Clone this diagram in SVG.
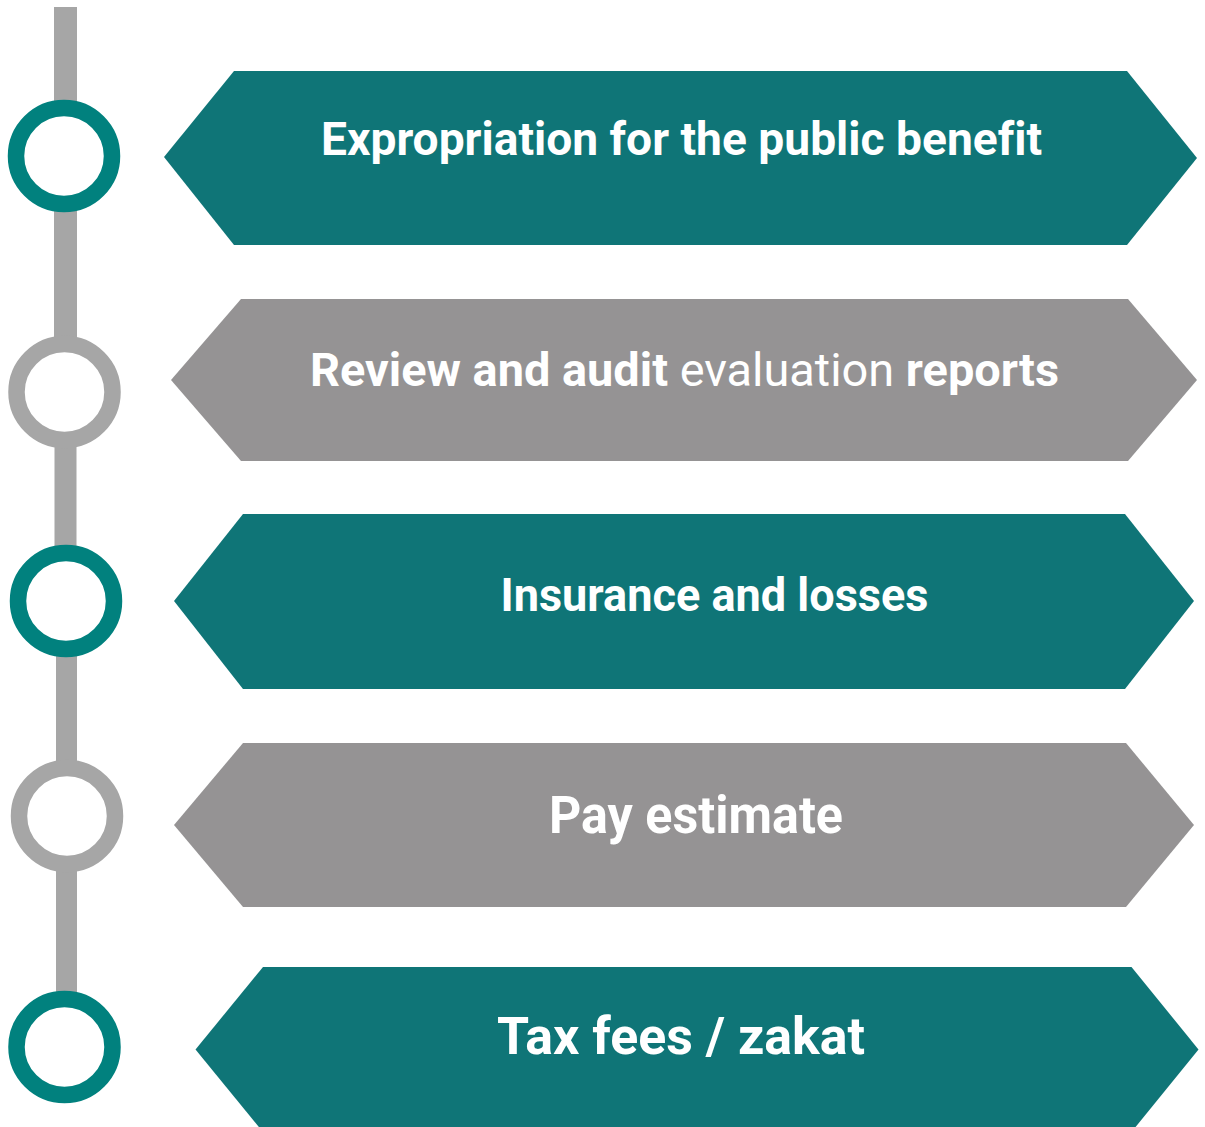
<svg xmlns="http://www.w3.org/2000/svg" width="1205" height="1127" viewBox="0 0 1205 1127">
<style>
.teal{fill:#0f7577}
.gray{fill:#959394}
.line{fill:#a6a6a6}
.ct{fill:#ffffff;stroke:#01817e;stroke-width:16.5}
.cg{fill:#ffffff;stroke:#a6a6a6;stroke-width:16.5}
.lbl{font-family:Roboto,"Liberation Sans",sans-serif;font-weight:700;fill:#ffffff;text-anchor:middle;font-variant-ligatures:none}
.reg{font-weight:400}
</style>
<rect width="1205" height="1127" fill="#ffffff"/>
<g id="connectors">
<rect class="line" x="54" y="7" width="23" height="150"/>
<rect class="line" x="54" y="156" width="23" height="236"/>
<rect class="line" x="54.5" y="392" width="22" height="209"/>
<rect class="line" x="56" y="601" width="21" height="215"/>
<rect class="line" x="56" y="816" width="21" height="231"/>
</g>
<g id="node1">
<circle class="ct" cx="64" cy="156" r="48"/>
<polygon class="teal" points="164,157 234,71 1127,71 1197,158 1127,245 234,245"/>
<text class="lbl" x="681.5" y="155" font-size="46" textLength="721" lengthAdjust="spacingAndGlyphs">Expropriation for the public benefit</text>
</g>
<g id="node2">
<circle class="cg" cx="64.5" cy="392" r="48"/>
<polygon class="gray" points="171,380 241,299 1128,299 1197,380 1128,461 241,461"/>
<text class="lbl" x="684.5" y="386" font-size="46" textLength="749" lengthAdjust="spacingAndGlyphs">Review and audit <tspan class="reg">evaluation</tspan> reports</text>
</g>
<g id="node3">
<circle class="ct" cx="66" cy="601" r="48"/>
<polygon class="teal" points="174,601 243,514 1125,514 1194,601 1125,689 243,689"/>
<text class="lbl" x="714.5" y="611" font-size="46" textLength="428" lengthAdjust="spacingAndGlyphs">Insurance and losses</text>
</g>
<g id="node4">
<circle class="cg" cx="67" cy="816" r="48"/>
<polygon class="gray" points="174,825 243,743 1126,743 1194,825 1126,907 243,907"/>
<text class="lbl" x="696" y="833" font-size="51" textLength="294" lengthAdjust="spacingAndGlyphs">Pay estimate</text>
</g>
<g id="node5">
<circle class="ct" cx="64.5" cy="1047" r="48"/>
<polygon class="teal" points="195.5,1049.5 263,967 1131.5,967 1198.5,1049.5 1131.5,1132 263,1132"/>
<text class="lbl" x="681" y="1054" font-size="52" textLength="368" lengthAdjust="spacingAndGlyphs">Tax fees / zakat</text>
</g>
</svg>
